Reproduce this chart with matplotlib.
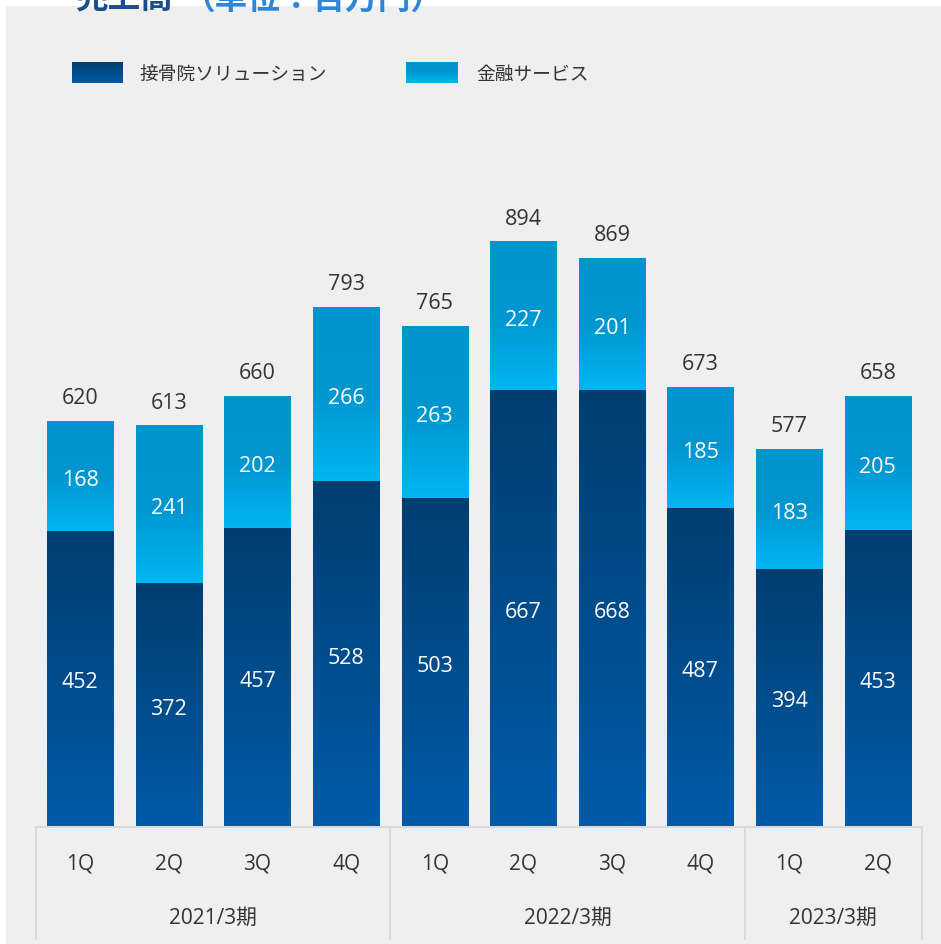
import numpy as np
import matplotlib
matplotlib.use("Agg")
import matplotlib.pyplot as plt
from matplotlib.colors import LinearSegmentedColormap
from matplotlib.patches import Rectangle
from matplotlib.lines import Line2D

# ---- data ----
quarters = ["1Q", "2Q", "3Q", "4Q", "1Q", "2Q", "3Q", "4Q", "1Q", "2Q"]
years = ["2021/3期", "2022/3期", "2023/3期"]
year_counts = [4, 4, 2]
seikotsu = [452, 372, 457, 528, 503, 667, 668, 487, 394, 453]
kinyu = [168, 241, 202, 266, 263, 227, 201, 185, 183, 205]
totals = [620, 613, 660, 793, 765, 894, 869, 673, 577, 658]
series_names = ["接骨院ソリューション", "金融サービス"]

W, H = 941, 945
fig = plt.figure(figsize=(W / 100, H / 100), dpi=100)
fig.patch.set_facecolor("white")

FONT_NUM = ["Open Sans", "Noto Sans CJK JP", "DejaVu Sans"]
FONT_JP = ["Noto Sans CJK JP", "DejaVu Sans"]
TXT = "#333333"

# gray panel (background axes, drawn first)
bg = fig.add_axes([0, 0, 1, 1], zorder=-10)
bg.set_axis_off()
bg.set_xlim(0, W)
bg.set_ylim(H, 0)
bg.add_patch(Rectangle((6, 7), W - 6, H - 7, facecolor="#efefef", edgecolor="none"))

dark_cmap = LinearSegmentedColormap.from_list("dark", ["#005ba8", "#003e70"])
light_cmap = LinearSegmentedColormap.from_list("light", ["#00b6f2", "#0096d0", "#0094cf"])
grad = np.linspace(0, 1, 256).reshape(-1, 1)

# axes: x from px 36 to 922, baseline at px 827, 0.653 px per unit
ymax = 1000
ax_h = 0.653 * ymax
ax = fig.add_axes([36 / W, (H - 827) / H, (922 - 36) / W, ax_h / H])
ax.set_facecolor("none")
ax.set_axis_off()

x = np.arange(len(quarters))
bw = 0.745
num_kw = dict(textcoords="offset points", ha="center", va="center",
              fontsize=15.5, family=FONT_NUM, zorder=3)
for i in x:
    b1 = seikotsu[i]
    ax.imshow(grad, cmap=dark_cmap, origin="lower", aspect="auto",
              extent=[i - bw / 2, i + bw / 2, 0, b1], zorder=2)
    t1 = b1 + kinyu[i]
    ax.imshow(grad, cmap=light_cmap, origin="lower", aspect="auto",
              extent=[i - bw / 2, i + bw / 2, b1, t1], zorder=2)
    ax.annotate(str(seikotsu[i]), (i, b1 / 2), xytext=(0, -2.5), color="white", **num_kw)
    ax.annotate(str(kinyu[i]), (i, b1 + kinyu[i] / 2), xytext=(0, -2.5), color="white", **num_kw)
    ax.annotate(str(totals[i]), (i, t1), xytext=(0, 17), color=TXT, **num_kw)

ax.set_xlim(-0.5, len(quarters) - 0.5)
ax.set_ylim(0, ymax)

# category axis with group boxes
px = 1 / 0.653
line_kw = dict(color="#d6d6d6", lw=1.2, clip_on=False, zorder=1)
ax.add_line(Line2D([-0.5, len(quarters) - 0.5], [-1 * px, -1 * px], **line_kw))
bounds = np.concatenate([[0], np.cumsum(year_counts)]) - 0.5
for b in bounds:
    ax.add_line(Line2D([b, b], [-1 * px, -113 * px], **line_kw))
for i, q in enumerate(quarters):
    ax.text(i, -37 * px, q, ha="center", va="center", color=TXT,
            fontsize=15, family=FONT_NUM)
for k, yl in enumerate(years):
    ax.text((bounds[k] + bounds[k + 1]) / 2, -91 * px, yl, ha="center", va="center",
            color=TXT, fontsize=15, family=FONT_NUM)

# legend
for (x0, x1), cmap, name, tx in [((72, 123), dark_cmap, series_names[0], 140),
                                 ((406, 458), light_cmap, series_names[1], 476)]:
    lax = fig.add_axes([x0 / W, (H - 84) / H, (x1 - x0) / W, 21 / H])
    lax.imshow(grad, cmap=cmap, origin="lower", aspect="auto")
    lax.set_axis_off()
    fig.text(tx / W, 1 - 74 / H, name, ha="left", va="center", color=TXT,
             fontsize=13.5, family=FONT_JP)

# title (cut off at the top in the reference)
fig.text(75 / W, 1 + 1 / H, "売上高", ha="left", va="center", color="#1b4d8c",
         fontsize=23.5, fontweight="bold", family=FONT_JP)
fig.text(182 / W, 1 + 1 / H, "（単位：百万円）", ha="left", va="center", color="#2f86d8",
         fontsize=23.5, fontweight="bold", family=FONT_JP)

fig.savefig("out.png", dpi=100, facecolor=fig.get_facecolor())
